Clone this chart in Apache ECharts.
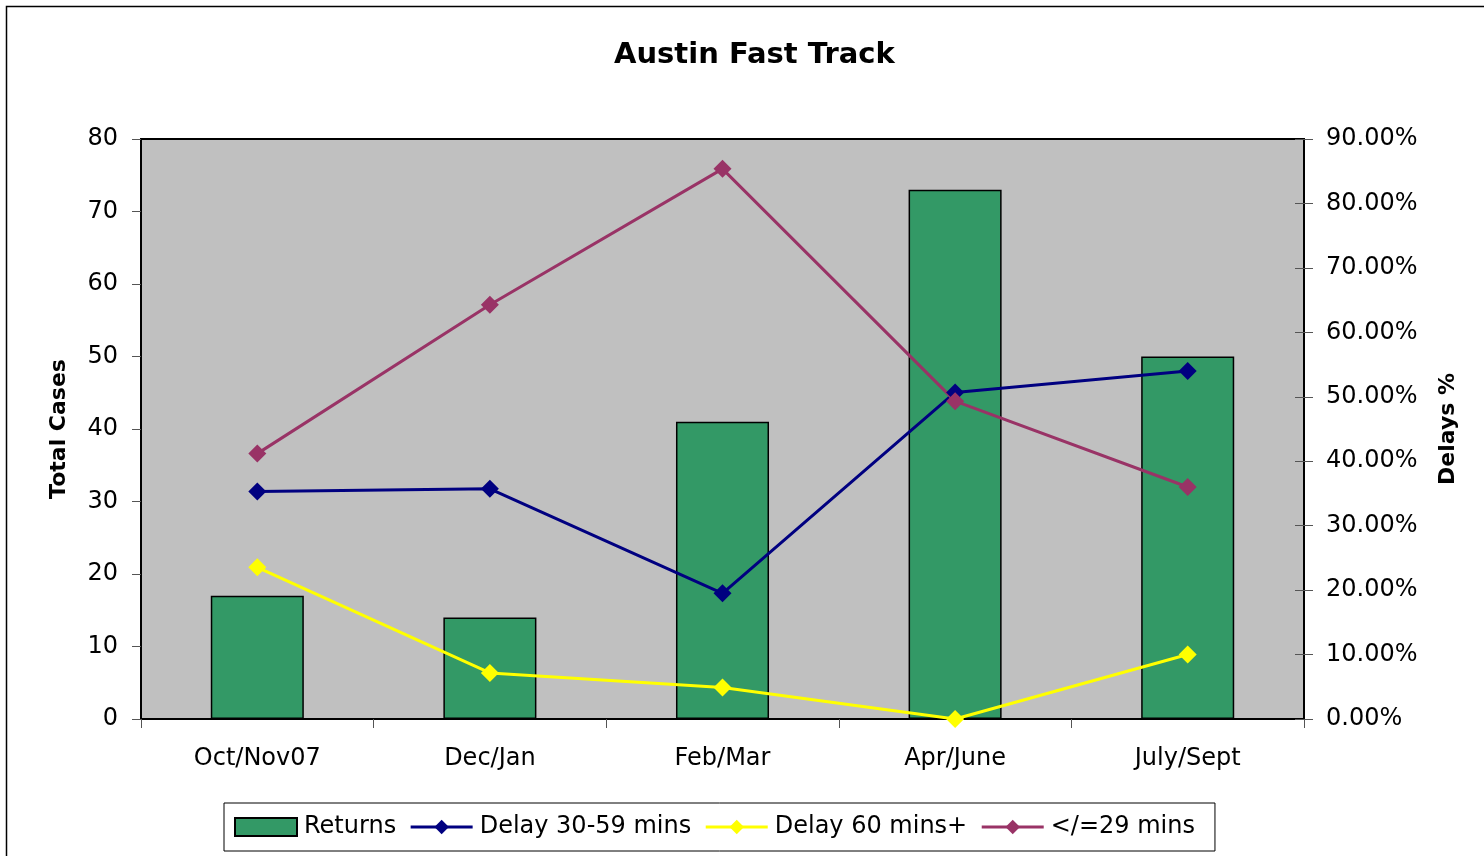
<!DOCTYPE html>
<html>
<head>
<meta charset="utf-8">
<script src="https://cdn.jsdelivr.net/npm/echarts@6/dist/echarts.min.js"></script>
<style>
  html, body { margin: 0; padding: 0; background: #fff; }
  #chart { width: 1484px; height: 856px; }
</style>
</head>
<body>
<div id="chart"></div>
<script>
// periods on the x axis
const periods = ['Oct/Nov07', 'Dec/Jan', 'Feb/Mar', 'Apr/June', 'July/Sept'];
// total cases (left axis)
const returns = [17, 14, 41, 73, 50];
// delay shares in percent (right axis)
const delay30to59 = [35.29, 35.71, 19.51, 50.68, 54.0];
const delay60plus = [23.53, 7.14, 4.88, 0, 10.0];
const upTo29 = [41.18, 64.29, 85.37, 49.32, 36.0];

const font = 'DejaVu Sans, sans-serif';

const chart = echarts.init(document.getElementById('chart'));

const lineSeries = (name, data, color) => ({
  name: name,
  type: 'line',
  yAxisIndex: 1,
  data: data,
  symbol: 'diamond',
  symbolSize: 18,
  lineStyle: { color: color, width: 3 },
  itemStyle: { color: color },
  z: 3
});

const legendLine = (name, color) => ({
  name: name,
  lineStyle: { color: color, width: 3 },
  itemStyle: { color: color }
});

chart.setOption({
  animation: false,
  backgroundColor: '#fff',
  textStyle: { fontFamily: font },
  graphic: [{
    type: 'rect',
    shape: { x: 6.5, y: 6.5, width: 1600, height: 1000 },
    style: { fill: 'none', stroke: '#000', lineWidth: 1.5 },
    silent: true
  }],
  title: {
    text: 'Austin Fast Track',
    left: 609,
    top: 36,
    textStyle: { fontFamily: font, fontSize: 29, fontWeight: 'bold', color: '#000' }
  },
  grid: {
    left: 141, right: 180, top: 139, bottom: 137,
    show: true,
    backgroundColor: '#c0c0c0',
    borderColor: '#000',
    borderWidth: 2
  },
  legend: {
    left: 224,
    top: 803,
    padding: [12, 20, 12, 10],
    itemGap: 13,
    itemWidth: 62,
    itemHeight: 18,
    borderColor: '#000',
    borderWidth: 1,
    textStyle: { fontFamily: font, fontSize: 24, color: '#000', padding: [0, 0, 0, 2] },
    data: [
      { name: 'Returns', icon: 'rect', itemStyle: { color: '#339966', borderColor: '#000', borderWidth: 2 } },
      legendLine('Delay 30-59 mins', '#000080'),
      legendLine('Delay 60 mins+', '#ffff00'),
      legendLine('</=29 mins', '#993366')
    ]
  },
  xAxis: {
    type: 'category',
    data: periods,
    axisLine: { lineStyle: { color: '#000', width: 2 } },
    axisTick: { show: true, length: 9, lineStyle: { color: '#555' } },
    axisLabel: { fontFamily: font, fontSize: 24, color: '#000', margin: 28 }
  },
  yAxis: [{
    type: 'value',
    min: 0, max: 80, interval: 10,
    name: 'Total Cases',
    nameLocation: 'middle',
    nameRotate: 90,
    nameGap: 71,
    nameTextStyle: { fontFamily: font, fontSize: 22, fontWeight: 'bold', color: '#000' },
    axisLine: { show: true, lineStyle: { color: '#000', width: 2 } },
    axisTick: { show: true, length: 9, lineStyle: { color: '#555' } },
    axisLabel: { fontFamily: font, fontSize: 24, color: '#000', margin: 23, padding: [4, 0, 0, 0] },
    splitLine: { show: false }
  }, {
    type: 'value',
    min: 0, max: 90, interval: 10,
    position: 'right',
    name: 'Delays %',
    nameLocation: 'middle',
    nameRotate: 90,
    nameGap: 133,
    nameTextStyle: { fontFamily: font, fontSize: 22, fontWeight: 'bold', color: '#000' },
    axisLine: { show: true, lineStyle: { color: '#000', width: 2 } },
    axisTick: { show: true, length: 9, lineStyle: { color: '#555' } },
    axisLabel: {
      fontFamily: font, fontSize: 24, color: '#000', margin: 22, padding: [4, 0, 0, 0],
      formatter: v => v.toFixed(2) + '%'
    },
    splitLine: { show: false }
  }, {
    // inner half of the right-hand ticks, which cross the axis line
    type: 'value',
    min: 0, max: 90, interval: 10,
    position: 'right',
    axisLine: { show: false },
    axisTick: { show: true, inside: true, length: 9, lineStyle: { color: '#555' } },
    axisLabel: { show: false },
    splitLine: { show: false }
  }],
  series: [
    {
      name: 'Returns',
      type: 'bar',
      data: returns,
      barWidth: '40%',
      itemStyle: { color: '#339966', borderColor: '#000', borderWidth: 1.5 },
      z: 2
    },
    lineSeries('Delay 30-59 mins', delay30to59, '#000080'),
    lineSeries('Delay 60 mins+', delay60plus, '#ffff00'),
    lineSeries('</=29 mins', upTo29, '#993366')
  ]
});
</script>
</body>
</html>
